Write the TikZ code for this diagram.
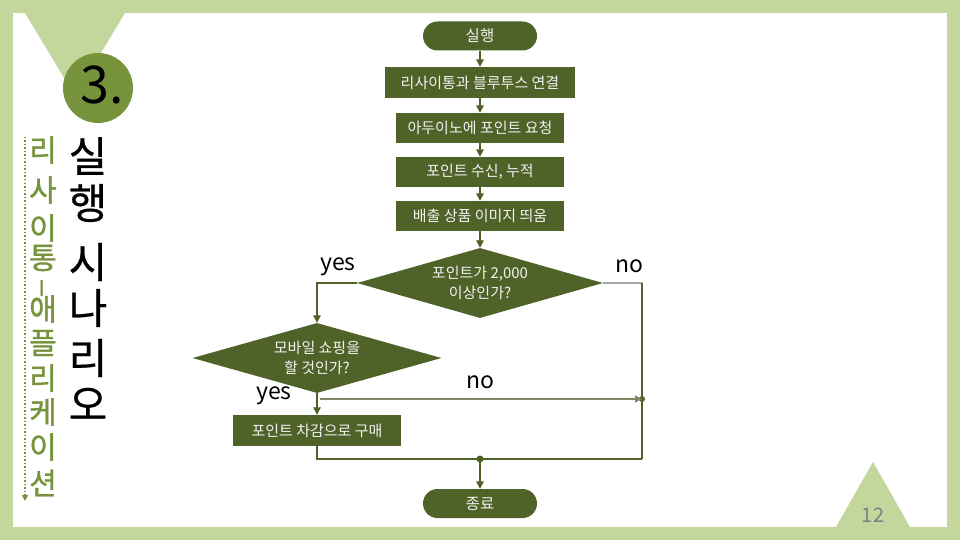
\documentclass[tikz,border=0pt]{standalone}
\usepackage{fontspec}
\setmainfont{Noto Sans CJK KR}
\newfontfamily\sidefont{Noto Sans CJK KR}[FakeBold=1.2]
\newfontfamily\titlefont{Noto Sans CJK KR}[FakeBold=0.6]
\usetikzlibrary{shapes.geometric,arrows.meta}
\definecolor{frameG}{HTML}{C3D69B}
\definecolor{oliveM}{HTML}{77933C}
\definecolor{oliveD}{HTML}{4F6228}
\definecolor{lineL}{HTML}{7D8A68}
\tikzset{
  fc/.style={fill=oliveD, text=white!95!black, inner sep=0pt, font=\fontsize{15}{18}\selectfont},
  termbox/.style={fc, rectangle, rounded corners=14.5pt, minimum width=114pt, minimum height=29pt, font=\fontsize{15.5}{18}\selectfont},
  procbox/.style={fc, rectangle, minimum width=168pt, minimum height=30pt},
  decbox/.style={fc, diamond, aspect=3.5, align=center, font=\fontsize{15}{20}\selectfont},
  conn/.style={draw=oliveD, line width=1.2pt},
  arr/.style={conn, -{Triangle[length=7.5pt,width=7.5pt]}},
  lbl/.style={inner sep=0pt, font=\fontsize{23}{23}\selectfont, text=black},
  titlech/.style={inner sep=0pt, font=\titlefont\fontsize{42}{42}\selectfont, text=black},
  sidech/.style={inner sep=0pt, font=\sidefont\fontsize{30}{30}\selectfont, text=oliveM},
  dotc/.style={circle, fill=oliveD, inner sep=0pt, minimum size=7pt}
}
\begin{document}
\begin{tikzpicture}[x=1pt,y=-1pt]
\useasboundingbox (0,0) rectangle (960,540);
% frame
\fill[frameG] (0,0) rectangle (960,540);
\fill[white] (13,13) rectangle (947,527);
\fill[frameG] (25,13) -- (125,13) -- (75,96) -- cycle;
\fill[frameG] (836,527) -- (910,527) -- (873,462) -- cycle;
\node[circle, fill=oliveM, minimum size=70pt, inner sep=0pt] (numc) at (98,88) {};
\node[inner sep=0pt, font=\fontsize{52}{52}\selectfont] (num) at (102,85) {3.};
\node[inner sep=0pt, font=\fontsize{20}{20}\selectfont, text=black!50] (pg) at (873,515) {12};
% title
\node[titlech] (t1) at (88,156) {실};
\node[titlech] (t2) at (88,203) {행};
\node[titlech] (t3) at (88,262) {시};
\node[titlech] (t4) at (88,308) {나};
\node[titlech] (t5) at (88,358) {리};
\node[titlech] (t6) at (88,404) {오};
% side text
\node[sidech] (s1) at (43,150) {리};
\node[sidech] (s2) at (43,190) {사};
\node[sidech] (s3) at (43,228) {이};
\node[sidech] (s4) at (43,258) {통};
\node[sidech, rotate=-90] (s5) at (43,288) {\_};
\node[sidech] (s6) at (43,309) {애};
\node[sidech] (s7) at (43,343) {플};
\node[sidech] (s8) at (43,378) {리};
\node[sidech] (s9) at (43,412) {케};
\node[sidech] (s10) at (43,447) {이};
\node[sidech] (s11) at (43,483) {션};
\coordinate (dA) at (25,137);
\coordinate (dB) at (25,501);
\draw[oliveM, line width=1.5pt, dotted, -{Triangle[length=6pt,width=6pt]}] (dA) -- (dB);
% flowchart
\node[termbox] (start) at (480,36) {실행};
\node[procbox, minimum width=190pt, minimum height=31pt] (b1) at (480,82.5) {리사이통과 블루투스 연결};
\node[procbox] (b2) at (480,128) {아두이노에 포인트 요청};
\node[procbox] (b3) at (480,172) {포인트 수신, 누적};
\node[procbox] (b4) at (480,216) {배출 상품 이미지 띄움};
\node[decbox, minimum width=246pt, minimum height=70pt] (d1) at (480,283) {포인트가 2,000\\이상인가?};
\node[decbox, minimum width=249pt, minimum height=70pt] (d2) at (317,358) {모바일 쇼핑을\\할 것인가?};
\node[procbox, minimum height=31pt] (b5) at (317,430.5) {포인트 차감으로 구매};
\node[termbox] (end) at (480,503.5) {종료};
\coordinate (cL) at (317,283);
\coordinate (cR) at (642,283);
\coordinate (nA) at (317,399);
\coordinate (mL) at (317,459);
\coordinate (mR) at (642,459);
\node[dotc, minimum size=6pt] (nB) at (642,399) {};
\node[dotc] (mC) at (480,459) {};
\draw[arr] (start) -- (b1);
\draw[arr] (b1) -- (b2);
\draw[arr] (b2) -- (b3);
\draw[arr] (b3) -- (b4);
\draw[arr] (b4) -- (d1);
\draw[arr] (d1.west) -- (cL) -- (d2.north);
\draw[line width=1.6pt, draw=black!35] (d1.east) -- (cR);
\draw[conn] (cR) -- (mR);
\draw[arr] (d2.south) -- (b5.north);
\draw[conn, draw=lineL, -{Triangle[length=7pt,width=7pt]}] ([xshift=3pt]nA) -- (nB.center);
\draw[conn] (b5.south) -- (mL) -- (mR);
\draw[arr] (mC.center) -- (end.north);
% labels
\node[lbl] (y1) at (338,267) {yes};
\node[lbl] (n1) at (629,266) {no};
\node[lbl] (n2) at (480,382) {no};
\node[lbl] (y2) at (274,396) {yes};
\end{tikzpicture}
\end{document}
